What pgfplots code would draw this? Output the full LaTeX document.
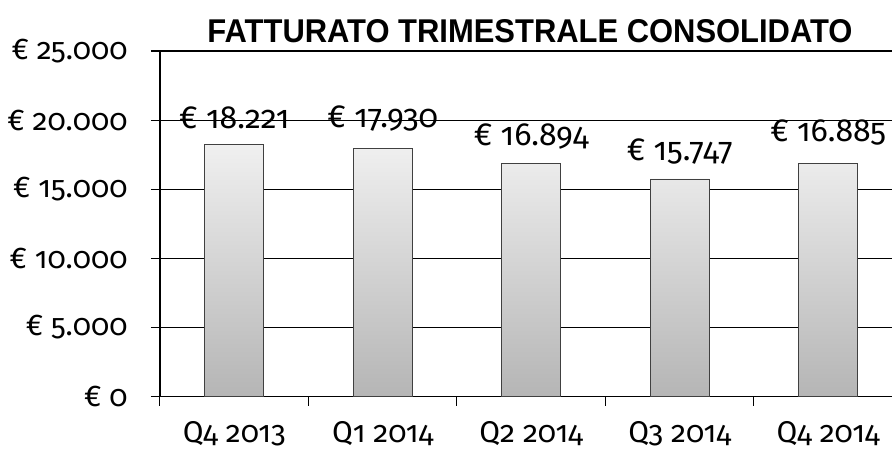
\documentclass[border=0pt]{standalone}
\usepackage{pgfplots}
\pgfplotsset{compat=1.18}
\usepackage{fontspec}
\setmainfont{Liberation Sans}
\newfontfamily\labfont[Numbers=OldStyle]{Fira Sans}
\begin{document}
\begin{tikzpicture}[x=1pt,y=1pt]
\useasboundingbox (0,0) rectangle (892,450);
\begin{axis}[
  at={(160pt,53.3pt)}, anchor=south west,
  scale only axis, width=732pt, height=345.7pt,
  xmin=-0.5, xmax=4.43, ymin=0, ymax=25000,
  scaled y ticks=false,
  axis lines*=left,
  axis line style={black, line width=1.3pt},
  ytick={0,5000,10000,15000,20000,25000},
  yticklabels={€ 0,€ 5.000,€ 10.000,€ 15.000,€ 20.000,€ 25.000},
  xtick={0,1,2,3,4},
  xticklabels={Q4 2013,Q1 2014,Q2 2014,Q3 2014,Q4 2014},
  minor xtick={-0.5,0.5,1.5,2.5,3.5},
  major x tick style={draw=none},
  minor x tick style={black, line width=1pt},
  minor tick length=9pt,
  major tick length=9pt,
  tick align=outside,
  ytick style={black, line width=1.2pt},
  ymajorgrids, grid style={black, line width=1.2pt},
  yticklabel style={font=\labfont\fontsize{30}{30}\selectfont, anchor=east, xshift=-20pt},
  xticklabel style={font=\labfont\fontsize{30}{30}\selectfont, anchor=center, yshift=-28pt},
  clip=false,
]
\addplot[ybar, bar width=59pt, draw=black!75, line width=0.8pt,
  top color=gray!12, bottom color=gray!58]
  coordinates {(0,18221) (1,17930) (2,16894) (3,15747) (4,16885)};
\addplot[draw=none, mark=none, point meta=explicit symbolic,
  nodes near coords, nodes near coords align={center},
  every node near coord/.append style={font=\labfont\fontsize{32}{32}\selectfont, anchor=center, black}]
  coordinates {(0,20150) [€ 18.221] (1,20100) [€ 17.930] (2,18800) [€ 16.894] (3,17700) [€ 15.747] (4,19070) [€ 16.885]};
\end{axis}
\node at (530,418.5) {\resizebox{645pt}{23pt}{\fontsize{32}{32}\selectfont\bfseries FATTURATO TRIMESTRALE CONSOLIDATO}};
\end{tikzpicture}
\end{document}
